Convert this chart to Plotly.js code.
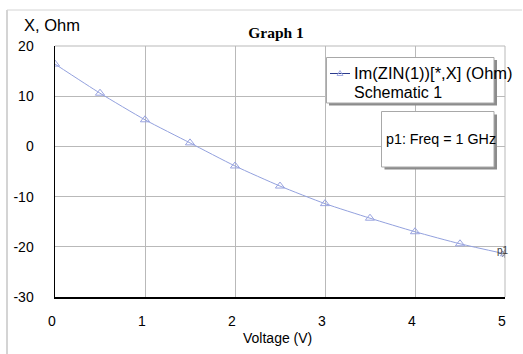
<!DOCTYPE html>
<html>
<head>
<meta charset="utf-8">
<script src="https://cdn.plot.ly/plotly-3.0.1.min.js"></script>
<style>
html,body{margin:0;padding:0;background:#fff;}
#chart{width:523px;height:354px;}
</style>
</head>
<body>
<div id="chart"></div>
<script>
// ---- data ----
const voltage = [0, 0.5, 1, 1.5, 2, 2.5, 3, 3.5, 4, 4.5, 5];
const reactance = [16.4, 10.6, 5.3, 0.7, -3.9, -7.9, -11.4, -14.3, -17.0, -19.4, -21.4];
const xTickVals = [0, 1, 2, 3, 4, 5];
const xTickText = ['0', '1', '2', '3', '4', '5'];
const yTickVals = [-30, -20, -10, 0, 10, 20];
const yTickText = ['-30', '-20', '-10', '0', '10', '20'];
const seriesName = 'Im(ZIN(1))[*,X] (Ohm)';
const seriesSub = 'Schematic 1';
const markerLabel = 'p1';
const markerText = 'p1: Freq = 1 GHz';
const chartTitle = 'Graph 1';
const xTitle = 'Voltage (V)';
const yTitle = 'X, Ohm';

// ---- layout helpers (pixel -> paper) ----
const W = 523, H = 354;
const M = {l: 55, r: 18, t: 46, b: 57};
const PW = W - M.l - M.r, PH = H - M.t - M.b;
const px = v => (v - M.l) / PW;
const py = v => (H - M.b - v) / PH;

const FONT = 'Liberation Sans, Arial, sans-serif';
const gridCol = '#b9b9b9';

const traces = [
  {
    x: voltage, y: reactance,
    type: 'scatter', mode: 'lines+markers',
    line: {color: '#93a1de', width: 1, shape: 'spline', smoothing: 0.6},
    marker: {symbol: 'triangle-up-open', size: 8, color: '#9aa4e0', line: {width: 1, color: '#9aa4e0'}},
    name: seriesName, showlegend: false, hoverinfo: 'skip'
  },
  {
    x: [voltage[voltage.length - 1]], y: [reactance[reactance.length - 1]],
    type: 'scatter', mode: 'markers',
    marker: {symbol: 'asterisk-open', size: 7, color: '#8a8a8a', line: {width: 1, color: '#8a8a8a'}},
    showlegend: false, hoverinfo: 'skip'
  }
];

const shapes = [
  // outer frame
  {type: 'line', xref: 'paper', yref: 'paper', x0: px(7), x1: px(7), y0: py(10), y1: py(354), line: {color: '#d4d4d4', width: 2}},
  {type: 'line', xref: 'paper', yref: 'paper', x0: px(7), x1: px(522), y0: py(10), y1: py(10), line: {color: '#d4d4d4', width: 1}},
  // top & right plot border (gray)
  {type: 'line', xref: 'paper', yref: 'paper', x0: 0, x1: 1, y0: 1, y1: 1, line: {color: gridCol, width: 1}, layer: 'below'},
  {type: 'line', xref: 'paper', yref: 'paper', x0: 1, x1: 1, y0: 0, y1: 1, line: {color: gridCol, width: 1}, layer: 'below'},
  // legend box shadow + box
  {type: 'rect', xref: 'paper', yref: 'paper', x0: px(329), x1: px(497), y0: py(60), y1: py(105.5), fillcolor: '#8c8c8c', line: {width: 0}, layer: 'above'},
  {type: 'rect', xref: 'paper', yref: 'paper', x0: px(326.5), x1: px(494), y0: py(57.5), y1: py(103), fillcolor: '#ffffff', line: {color: '#a8a8a8', width: 1}, layer: 'above'},
  // marker info box shadow + box
  {type: 'rect', xref: 'paper', yref: 'paper', x0: px(384.5), x1: px(497), y0: py(114.5), y1: py(169.5), fillcolor: '#8c8c8c', line: {width: 0}, layer: 'above'},
  {type: 'rect', xref: 'paper', yref: 'paper', x0: px(381.5), x1: px(494), y0: py(111.5), y1: py(167), fillcolor: '#ffffff', line: {color: '#a8a8a8', width: 1}, layer: 'above'},
  // legend sample line
  {type: 'line', xref: 'paper', yref: 'paper', x0: px(330), x1: px(350), y0: py(73.5), y1: py(73.5), line: {color: '#2a3a8c', width: 1}, layer: 'above'},
  // legend sample triangle
  {type: 'path', xref: 'paper', yref: 'paper', layer: 'above',
   path: `M ${px(337)},${py(75.5)} L ${px(343)},${py(75.5)} L ${px(340)},${py(70.5)} Z`,
   fillcolor: 'rgba(0,0,0,0)', line: {color: '#a6aee4', width: 1}}
];

const annotations = [
  {text: yTitle, xref: 'paper', yref: 'paper', x: px(22), y: py(25), xanchor: 'left', yanchor: 'middle', showarrow: false,
   font: {family: FONT, size: 16.5, color: '#000'}},
  {text: xTitle, xref: 'paper', yref: 'paper', x: px(277), y: py(338), xanchor: 'center', yanchor: 'middle', showarrow: false,
   font: {family: FONT, size: 14, color: '#000'}},
  {text: '<span style="font-size:16.5px">' + seriesName + '</span><br><span style="font-size:16px">' + seriesSub + '</span>',
   xref: 'paper', yref: 'paper', x: px(351.5), y: py(82), xanchor: 'left', yanchor: 'middle', align: 'left', showarrow: false,
   font: {family: FONT, size: 14.6, color: '#000'}},
  {text: markerText, xref: 'paper', yref: 'paper', x: px(384), y: py(139), xanchor: 'left', yanchor: 'middle', showarrow: false,
   font: {family: FONT, size: 14.3, color: '#000'}},
  {text: markerLabel, xref: 'x', yref: 'y', x: voltage[voltage.length - 1], y: reactance[reactance.length - 1],
   xshift: -2.5, yshift: 3, xanchor: 'center', yanchor: 'middle', showarrow: false,
   font: {family: FONT, size: 10, color: '#404040'}}
];

const layout = {
  width: W, height: H,
  margin: M,
  paper_bgcolor: '#ffffff', plot_bgcolor: '#ffffff',
  showlegend: false,
  title: {text: '<b>' + chartTitle + '</b>', x: 276 / W, xanchor: 'center', xref: 'container',
          y: 1 - 33 / H, yanchor: 'middle', yref: 'container',
          font: {family: 'Liberation Serif, Times New Roman, serif', size: 15.5, color: '#000'}},
  xaxis: {
    range: [0, 5], tickvals: xTickVals, ticktext: xTickText,
    showgrid: true, gridcolor: gridCol, gridwidth: 1, zeroline: false,
    showline: true, linecolor: '#000', linewidth: 1.5,
    ticks: 'outside', ticklen: 11, tickcolor: 'rgba(0,0,0,0)', ticklabelshift: -3,
    tickfont: {family: FONT, size: 14, color: '#000'},
    fixedrange: true
  },
  yaxis: {
    range: [-30, 20], tickvals: yTickVals, ticktext: yTickText,
    showgrid: true, gridcolor: gridCol, gridwidth: 1, zeroline: false,
    showline: true, linecolor: '#000', linewidth: 1.5,
    ticks: 'outside', ticklen: 17, tickcolor: 'rgba(0,0,0,0)',
    tickfont: {family: FONT, size: 14, color: '#000'},
    fixedrange: true
  },
  shapes: shapes,
  annotations: annotations
};

Plotly.newPlot('chart', traces, layout, {staticPlot: true, displayModeBar: false});
</script>
</body>
</html>
